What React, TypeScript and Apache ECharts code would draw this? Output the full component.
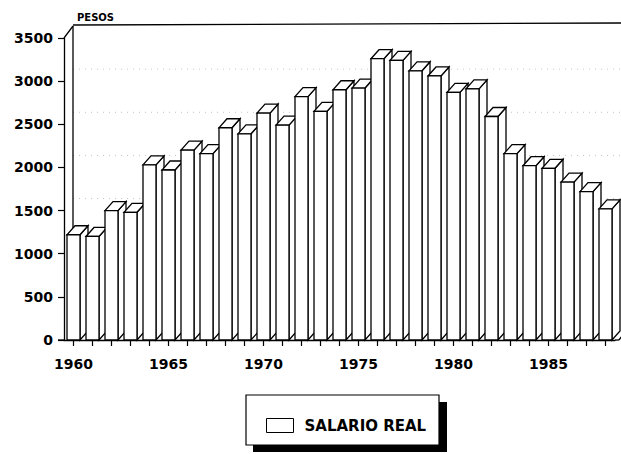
import React, { useEffect, useRef } from "react";
import * as echarts from "echarts";

const years = ["1960","1961","1962","1963","1964","1965","1966","1967","1968","1969","1970","1971","1972","1973","1974","1975","1976","1977","1978","1979","1980","1981","1982","1983","1984","1985","1986","1987","1988"];
const salarioReal = [1220,1200,1500,1480,2030,1970,2200,2160,2460,2390,2630,2490,2820,2650,2900,2920,3260,3240,3120,3060,2870,2910,2590,2160,2020,1990,1830,1720,1520];
const yTicks = [0,500,1000,1500,2000,2500,3000,3500];
const seriesName = "SALARIO REAL";
const unitLabel = "PESOS";

const FONT = "DejaVu Sans";

export default function App() {
  const ref = useRef<HTMLDivElement>(null);
  useEffect(() => {
    if (!ref.current) return;
    const chart = echarts.init(ref.current, undefined, { renderer: "svg" });
    const G = { left: 64, top: 38, right: 6, bottom: 114 };
    const W = 621, H = 454;
    const gx0 = G.left, gx1 = W - G.right, gy0 = G.top, gy1 = H - G.bottom;
    const yMax = yTicks[yTicks.length - 1];
    const yPix = (v: number) => gy1 - (v / yMax) * (gy1 - gy0);
    const wdx = 9, wdy = -12;

    const gridLines = yTicks.filter((v) => v > 0 && v < yMax).map((v) => ({
      type: "line",
      z: 0,
      shape: { x1: gx0 + wdx, y1: yPix(v) + wdy, x2: W, y2: yPix(v) + wdy },
      style: { stroke: "#c4c4c4", lineWidth: 1, lineDash: [1, 5] },
    }));

    const option: any = {
      animation: false,
      backgroundColor: "#fff",
      title: {
        text: unitLabel,
        left: 72,
        top: 7,
        textStyle: { fontFamily: FONT, fontSize: 10, fontWeight: "bold", color: "#000" },
      },
      grid: { left: G.left, top: G.top, right: G.right, bottom: G.bottom },
      legend: {
        data: [seriesName],
        left: 261,
        top: 413,
        itemWidth: 27,
        itemHeight: 14,
        icon: "rect",
        itemStyle: { color: "#fff", borderColor: "#000", borderWidth: 1 },
        textStyle: { fontFamily: FONT, fontSize: 15, fontWeight: "bold", color: "#000", padding: [0, 0, 0, 6] },
      },
      xAxis: {
        type: "category",
        data: years,
        boundaryGap: true,
        axisLine: { show: true, lineStyle: { color: "#000", width: 1.3 } },
        axisTick: { show: true, interval: 0, alignWithLabel: true, length: 6, lineStyle: { color: "#000", width: 1.2 } },
        axisLabel: {
          interval: 4,
          margin: 17,
          fontFamily: FONT,
          fontSize: 14,
          fontWeight: "bold",
          color: "#000",
        },
        splitLine: { show: false },
      },
      yAxis: {
        type: "value",
        min: 0,
        max: yMax,
        interval: 500,
        axisLine: { show: true, lineStyle: { color: "#000", width: 1.3 } },
        axisTick: { show: true, length: 6, lineStyle: { color: "#000", width: 1.2 } },
        axisLabel: {
          margin: 11,
          fontFamily: FONT,
          fontSize: 14,
          fontWeight: "bold",
          color: "#000",
          formatter: (v: number) => String(v),
        },
        splitLine: { show: false },
      },
      graphic: [
        ...gridLines,
        { type: "line", z: 0, shape: { x1: gx0, y1: gy0, x2: gx0 + wdx, y2: gy0 + wdy }, style: { stroke: "#000", lineWidth: 1.3 } },
        { type: "line", z: 0, shape: { x1: gx0 + wdx, y1: gy0 + wdy, x2: gx0 + wdx, y2: gy1 + wdy }, style: { stroke: "#000", lineWidth: 1.3 } },
        { type: "line", z: 0, shape: { x1: gx0 + wdx, y1: gy0 + wdy - 1, x2: W, y2: gy0 + wdy - 3 }, style: { stroke: "#000", lineWidth: 1.3 } },
        { type: "line", z: 0, shape: { x1: gx0 - 6, y1: gy1, x2: gx0, y2: gy1 }, style: { stroke: "#000", lineWidth: 1.3 } },
        { type: "line", z: 0, shape: { x1: gx1, y1: gy1, x2: gx1 + 4, y2: gy1 }, style: { stroke: "#000", lineWidth: 1.3 } },
        { type: "line", z: 0, shape: { x1: gx1 + 4, y1: gy1, x2: gx1 + 4 + wdx * 0.7, y2: gy1 + wdy * 0.7 }, style: { stroke: "#000", lineWidth: 1.3 } },
        { type: "rect", z: 0, shape: { x: 253, y: 402, width: 194, height: 50 }, style: { fill: "#000" } },
        { type: "rect", z: 1, shape: { x: 246, y: 395, width: 193, height: 50 }, style: { fill: "#fff", stroke: "#000", lineWidth: 1.2 } },
      ],
      series: [
        {
          name: seriesName,
          type: "custom",
          z: 3,
          itemStyle: { color: "#fff", borderColor: "#000" },
          data: salarioReal.map((v, i) => [i, v]),
          renderItem: (params: any, api: any) => {
            const top = api.coord([api.value(0), api.value(1)]);
            const base = api.coord([api.value(0), 0]);
            const w = 13, dx = 8, dy = -9;
            const l = top[0] - w / 2, r = top[0] + w / 2;
            const t = top[1], b = base[1];
            const st = { fill: "#fff", stroke: "#000", lineWidth: 1.3 };
            return {
              type: "group",
              children: [
                { type: "polygon", shape: { points: [[r, t], [r + dx, t + dy], [r + dx, b + dy], [r, b]] }, style: st },
                { type: "polygon", shape: { points: [[l, t], [r, t], [r + dx, t + dy], [l + dx, t + dy]] }, style: st },
                { type: "rect", shape: { x: l, y: t, width: w, height: b - t }, style: st },
              ],
            };
          },
        },
      ],
    };
    chart.setOption(option);
    return () => chart.dispose();
  }, []);
  return <div ref={ref} style={{ width: 621, height: 454, position: "absolute", left: 0, top: 0 }} />;
}
